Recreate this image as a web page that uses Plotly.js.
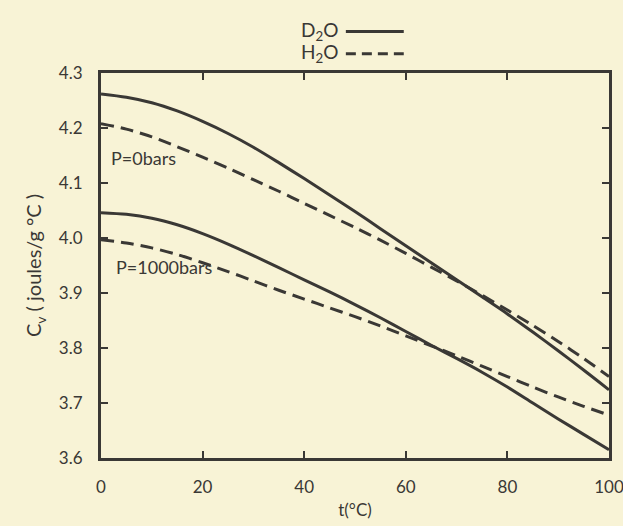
<!DOCTYPE html>
<html>
<head>
<meta charset="utf-8">
<script src="https://cdn.plot.ly/plotly-3.0.1.min.js"></script>
<style>html,body{margin:0;padding:0;background:#f8f3d6;}#chart{width:623px;height:526px;}</style>
</head>
<body>
<div id="chart"></div>
<script>
const temps = [0,5,10,15,20,25,30,35,40,45,50,55,60,65,70,75,80,85,90,95,100];
const d2o_p0 = [4.262,4.256,4.246,4.231,4.212,4.190,4.165,4.137,4.108,4.078,4.048,4.017,3.986,3.955,3.924,3.893,3.862,3.829,3.795,3.760,3.724];
const h2o_p0 = [4.208,4.198,4.184,4.166,4.147,4.127,4.106,4.085,4.063,4.041,4.019,3.996,3.972,3.947,3.922,3.896,3.869,3.841,3.812,3.781,3.748];
const d2o_p1000 = [4.046,4.043,4.036,4.024,4.008,3.989,3.968,3.946,3.924,3.902,3.879,3.855,3.830,3.805,3.781,3.756,3.729,3.700,3.671,3.643,3.615];
const h2o_p1000 = [3.997,3.991,3.982,3.970,3.955,3.939,3.922,3.905,3.889,3.873,3.857,3.840,3.822,3.804,3.786,3.767,3.748,3.729,3.711,3.694,3.678];
const xTicks = [0,20,40,60,80,100];
const yTicks = [3.6,3.7,3.8,3.9,4.0,4.1,4.2,4.3];
const yTickText = ['3.6','3.7','3.8','3.9','4.0','4.1','4.2','4.3'];

const ink = '#3a3835';
const solid = {color: ink, width: 3, shape: 'spline', smoothing: 0.8};
const dashed = {color: ink, width: 3, shape: 'spline', smoothing: 0.8, dash: '13px,7px'};

const traces = [
  {x: temps, y: d2o_p0, mode: 'lines', line: solid, name: 'D2O P=0', hoverinfo: 'skip'},
  {x: temps, y: h2o_p0, mode: 'lines', line: dashed, name: 'H2O P=0', hoverinfo: 'skip'},
  {x: temps, y: d2o_p1000, mode: 'lines', line: solid, name: 'D2O P=1000', hoverinfo: 'skip'},
  {x: temps, y: h2o_p1000, mode: 'lines', line: dashed, name: 'H2O P=1000', hoverinfo: 'skip'}
];

const fam = 'Lato, "Open Sans", sans-serif';
const font = {family: fam, size: 17, color: ink};

const layout = {
  width: 623, height: 526,
  paper_bgcolor: '#f8f3d6', plot_bgcolor: '#f8f3d6',
  margin: {l: 101, r: 14, t: 73, b: 68},
  showlegend: false,
  font: font,
  xaxis: {
    range: [0, 100], tickvals: xTicks, ticktext: xTicks.map(String),
    ticks: 'inside', ticklen: 7, tickwidth: 2, tickcolor: ink,
    showline: true, linecolor: ink, linewidth: 3, mirror: 'ticks',
    showgrid: false, zeroline: false, ticklabelstandoff: 12,
    ticklabeloverflow: 'allow',
    title: {text: 't(°C)', font: font, standoff: 8}
  },
  yaxis: {
    range: [3.6, 4.3], tickvals: yTicks, ticktext: yTickText,
    ticks: 'inside', ticklen: 7, tickwidth: 2, tickcolor: ink,
    showline: true, linecolor: ink, linewidth: 3, mirror: 'ticks',
    showgrid: false, zeroline: false, ticklabelstandoff: 12,
    ticklabeloverflow: 'allow',
    title: {text: 'C<sub>v</sub> ( joules/g °C )', font: {family: fam, size: 20, color: ink}, standoff: 12}
  },
  annotations: [
    {xref: 'paper', yref: 'paper', x: 0.016, y: 0.78, xanchor: 'left', yanchor: 'middle', text: 'P=0bars', showarrow: false, font: {family: fam, size: 18, color: ink}},
    {xref: 'paper', yref: 'paper', x: 0.026, y: 0.495, xanchor: 'left', yanchor: 'middle', text: 'P=1000bars', showarrow: false, font: {family: fam, size: 18, color: ink}},
    {xref: 'paper', yref: 'paper', x: 0.47, y: 1.11, xanchor: 'right', yanchor: 'middle', text: 'D<sub>2</sub>O', showarrow: false, font: {family: fam, size: 19, color: ink}},
    {xref: 'paper', yref: 'paper', x: 0.47, y: 1.052, xanchor: 'right', yanchor: 'middle', text: 'H<sub>2</sub>O', showarrow: false, font: {family: fam, size: 19, color: ink}}
  ],
  shapes: [
    {type: 'line', xref: 'paper', yref: 'paper', x0: 0.482, x1: 0.596, y0: 1.108, y1: 1.108, line: {color: ink, width: 3}},
    {type: 'line', xref: 'paper', yref: 'paper', x0: 0.482, x1: 0.596, y0: 1.05, y1: 1.05, line: {color: ink, width: 3, dash: '10px,6px'}}
  ]
};

Plotly.newPlot('chart', traces, layout, {staticPlot: true, displayModeBar: false});
</script>
</body>
</html>
